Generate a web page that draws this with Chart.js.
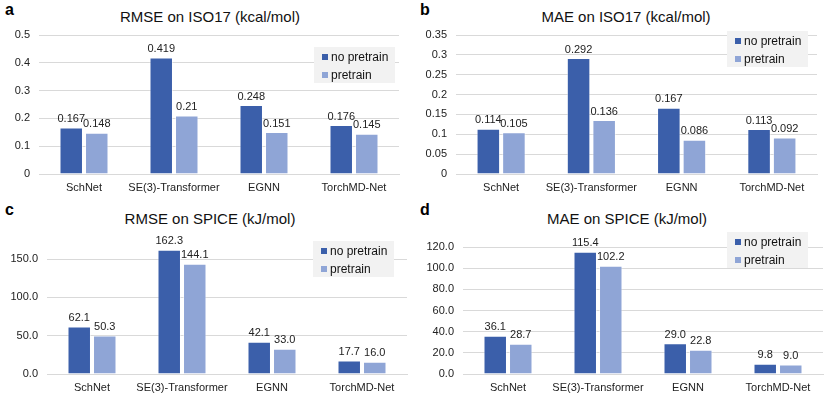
<!DOCTYPE html>
<html>
<head>
<meta charset="utf-8">
<script src="https://cdn.jsdelivr.net/npm/chart.js@4.4.0/dist/chart.umd.min.js"></script>
<style>
  body { margin: 0; background: #fff; font-family: "Liberation Sans", Arial, sans-serif; }
  #wrap { position: relative; width: 831px; height: 399px; overflow: hidden; }
  .panel { position: absolute; width: 415px; height: 200px; }
  .panel canvas { position: absolute; left: 0; top: 0; }
  .letter { position: absolute; left: 5px; top: 1px; font-weight: bold; font-size: 16px; color: #000; }
  .title { position: absolute; left: 0; width: 420px; text-align: center; font-size: 15px; color: #111; }
</style>
</head>
<body>
<div id="wrap">
  <div class="panel" style="left:0;top:0">
    <div class="letter">a</div>
    <div class="title" style="top:8px">RMSE on ISO17 (kcal/mol)</div>
    <canvas id="chartA" width="415" height="200"></canvas>
  </div>
  <div class="panel" style="left:415px;top:0">
    <div class="letter">b</div>
    <div class="title" style="top:8px;left:1px">MAE on ISO17 (kcal/mol)</div>
    <canvas id="chartB" width="415" height="200"></canvas>
  </div>
  <div class="panel" style="left:0;top:200px">
    <div class="letter">c</div>
    <div class="title" style="top:10px">RMSE on SPICE (kJ/mol)</div>
    <canvas id="chartC" width="415" height="199"></canvas>
  </div>
  <div class="panel" style="left:415px;top:200px">
    <div class="letter">d</div>
    <div class="title" style="top:10px;left:2px">MAE on SPICE (kJ/mol)</div>
    <canvas id="chartD" width="415" height="199"></canvas>
  </div>
</div>
<script>
// dados
const models = ['SchNet', 'SE(3)-Transformer', 'EGNN', 'TorchMD-Net'];
const seriesNames = ['no pretrain', 'pretrain'];

const rmseIsoNoPre = [0.167, 0.419, 0.248, 0.176];
const rmseIsoPre = [0.148, 0.21, 0.151, 0.145];
const maeIsoNoPre = [0.114, 0.292, 0.167, 0.113];
const maeIsoPre = [0.105, 0.136, 0.086, 0.092];
const rmseSpiceNoPre = [62.1, 162.3, 42.1, 17.7];
const rmseSpicePre = [50.3, 144.1, 33.0, 16.0];
const maeSpiceNoPre = [36.1, 115.4, 29.0, 9.8];
const maeSpicePre = [28.7, 102.2, 22.8, 9.0];

const darkBlue = '#3b5faa';
const lightBlue = '#8fa5d6';
const fontFamily = '"Liberation Sans", Arial, sans-serif';

// rótulos de valor acima das barras
const valueLabels = {
    id: 'valueLabels',
    afterDatasetsDraw(chart, args, opts) {
        const ctx = chart.ctx;
        ctx.save();
        ctx.font = '11px ' + fontFamily;
        ctx.fillStyle = '#222';
        ctx.textAlign = 'center';
        ctx.textBaseline = 'bottom';
        chart.data.datasets.forEach((ds, i) => {
            chart.getDatasetMeta(i).data.forEach((bar, j) => {
                const v = ds.data[j];
                const txt = opts.decimals != null ? v.toFixed(opts.decimals) : String(v);
                ctx.fillText(txt, bar.x, bar.y - 3);
            });
        });
        ctx.restore();
    }
};

// legenda com fundo cinza
const boxLegend = {
    id: 'boxLegend',
    afterDraw(chart, args, opts) {
        const ctx = chart.ctx;
        ctx.save();
        ctx.fillStyle = '#f2f2f2';
        ctx.fillRect(opts.x, opts.y, 81, 36);
        ctx.font = '12px ' + fontFamily;
        ctx.textBaseline = 'middle';
        ctx.textAlign = 'left';
        chart.data.datasets.forEach((ds, i) => {
            const cy = opts.y + 10 + i * 18;
            ctx.fillStyle = ds.backgroundColor;
            ctx.fillRect(opts.x + 8, cy - 3, 6, 6);
            ctx.fillStyle = '#111';
            ctx.fillText(ds.label, opts.x + 17, cy + 1);
        });
        ctx.restore();
    }
};

function makeChart(id, noPre, pre, cfg) {
    const el = document.getElementById(id);
    return new Chart(el, {
        type: 'bar',
        data: {
            labels: models,
            datasets: [
                { label: seriesNames[0], data: noPre, backgroundColor: darkBlue, borderColor: 'rgba(255,255,255,0.5)', borderWidth: 1 },
                { label: seriesNames[1], data: pre, backgroundColor: lightBlue, borderColor: 'rgba(255,255,255,0.5)', borderWidth: 1 }
            ]
        },
        options: {
            responsive: false,
            animation: false,
            devicePixelRatio: 1,
            categoryPercentage: 0.567,
            barPercentage: 0.92,
            layout: { padding: { left: 0, top: cfg.top, right: 415 - cfg.right, bottom: 0 } },
            plugins: {
                legend: { display: false },
                tooltip: { enabled: false },
                valueLabels: { decimals: cfg.decimals },
                boxLegend: { x: cfg.legX, y: cfg.legY }
            },
            scales: {
                x: {
                    grid: { display: false, drawTicks: false },
                    border: { display: true, color: '#d9d9d9' },
                    ticks: { color: '#222', font: { size: 11, family: fontFamily }, padding: 7, maxRotation: 0, autoSkip: false },
                    afterFit(scale) { scale.height = el.height - 174; }
                },
                y: {
                    min: 0,
                    max: cfg.max,
                    grid: { color: '#d9d9d9', drawTicks: false },
                    border: { display: false },
                    ticks: {
                        stepSize: cfg.step,
                        color: '#222',
                        font: { size: 11, family: fontFamily },
                        padding: 9,
                        callback: cfg.fmt
                    },
                    afterBuildTicks(scale) {
                        scale.ticks = scale.ticks.filter(t => Math.abs(t.value / cfg.step - Math.round(t.value / cfg.step)) < 1e-6);
                    },
                    afterFit(scale) { scale.width = cfg.left; }
                }
            }
        },
        plugins: [valueLabels, boxLegend]
    });
}

document.addEventListener('DOMContentLoaded', function() {
    makeChart('chartA', rmseIsoNoPre, rmseIsoPre, {
        left: 39, right: 399, top: 35, max: 0.5, step: 0.1,
        fmt: v => String(Math.round(v * 10) / 10), decimals: null, legX: 314, legY: 47
    });
    makeChart('chartB', maeIsoNoPre, maeIsoPre, {
        left: 41, right: 402, top: 35, max: 0.35, step: 0.05,
        fmt: v => String(Math.round(v * 100) / 100), decimals: null, legX: 312, legY: 31
    });
    makeChart('chartC', rmseSpiceNoPre, rmseSpicePre, {
        left: 47, right: 407, top: 40, max: 175, step: 50,
        fmt: v => v.toFixed(1), decimals: 1, legX: 313, legY: 41
    });
    makeChart('chartD', maeSpiceNoPre, maeSpicePre, {
        left: 48, right: 408, top: 47, max: 120, step: 20,
        fmt: v => v.toFixed(1), decimals: 1, legX: 312, legY: 32
    });
});
</script>
</body>
</html>
